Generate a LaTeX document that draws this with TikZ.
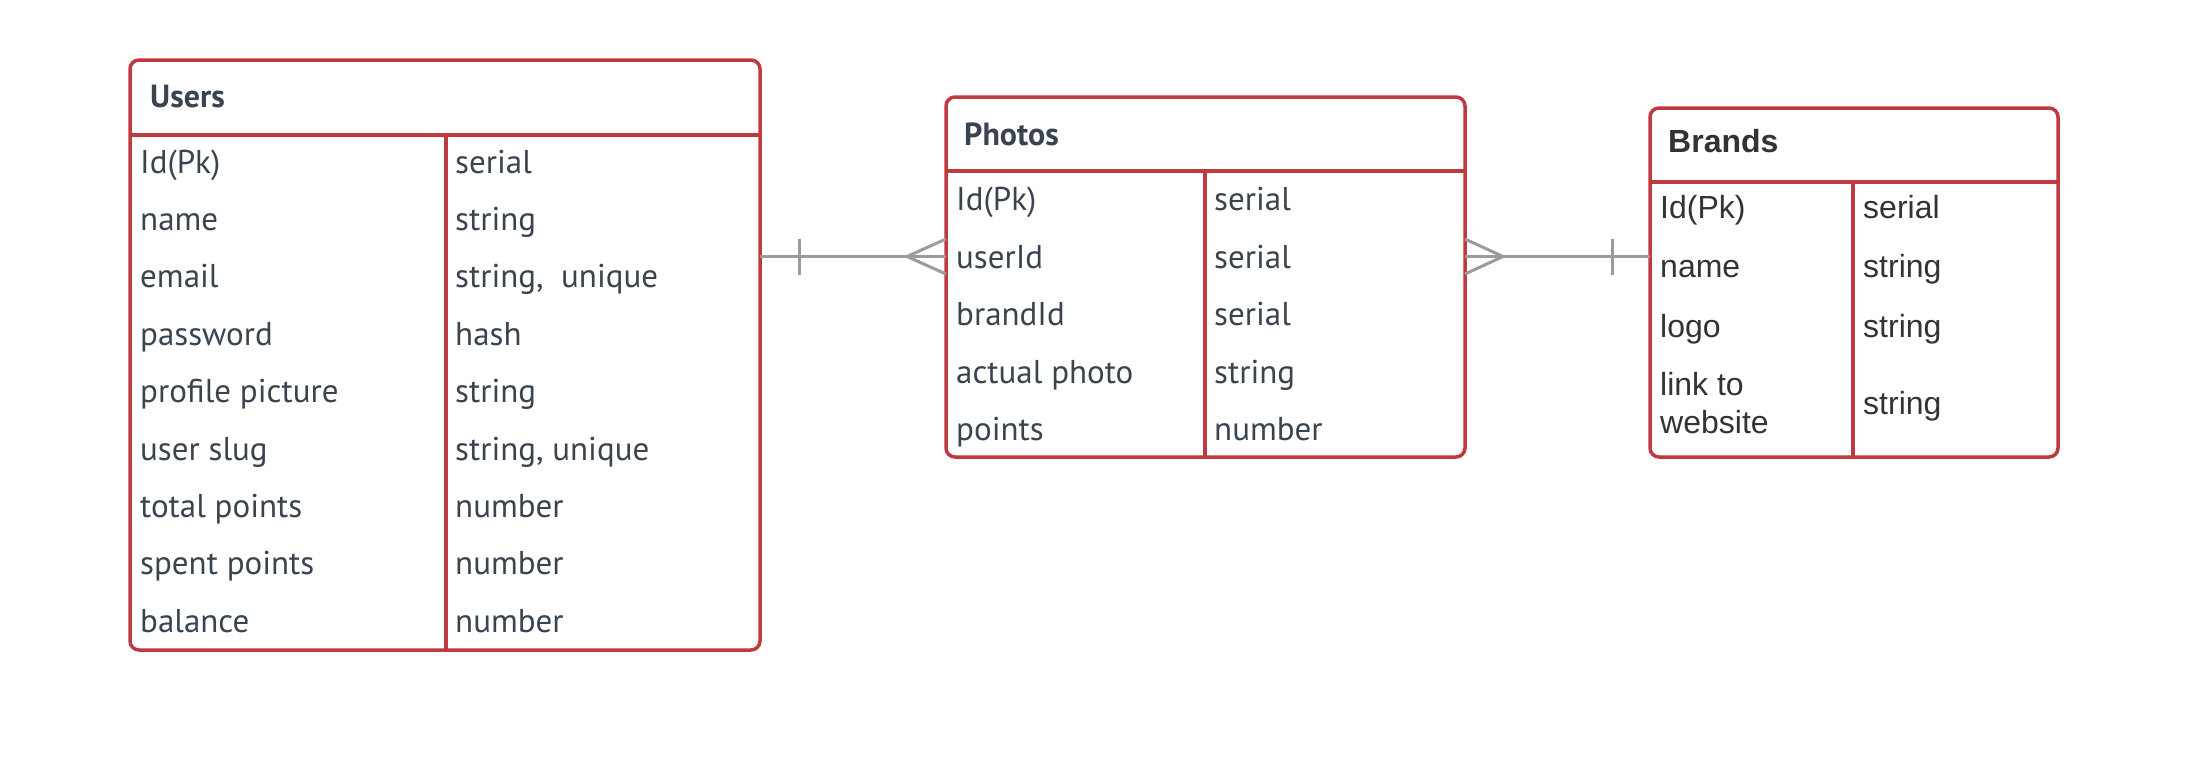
\documentclass[tikz,border=0pt]{standalone}
\usepackage{fontspec}
\setmainfont{PT Sans}
\newfontfamily\arialfont{Liberation Sans}
\usetikzlibrary{positioning}
\definecolor{tblred}{HTML}{BE3A40}
\definecolor{ink}{HTML}{3A4450}
\definecolor{linkgray}{HTML}{9B9B9B}
\begin{document}
\begin{tikzpicture}[x=1pt,y=-1pt,
  tbl/.style={draw=tblred,line width=3.5pt,rounded corners=9pt,inner sep=0pt,outer sep=0pt,anchor=north west},
  sep/.style={draw=tblred,line width=3.5pt},
  fld/.style={anchor=base west,inner sep=0pt,text=ink,font=\fontsize{33}{39}\selectfont},
  ttl/.style={fld,font=\fontsize{32}{38}\selectfont\bfseries},
  bfld/.style={fld,text=black!80,font=\arialfont\fontsize{32}{38}\selectfont},
  rel/.style={draw=linkgray,line width=3pt}]
\useasboundingbox (0,0) rectangle (2198,774);
% tables
\node[tbl,minimum width=630pt,minimum height=590pt] (users) at (130,60) {};
\node[tbl,minimum width=519pt,minimum height=360pt] (photos) at (946,97) {};
\node[tbl,minimum width=408pt,minimum height=349pt] (brands) at (1650,108) {};
\draw[sep] (users.west |- 0,135) -- (users.east |- 0,135);
\draw[sep] (446,135) -- (users.south -| 446,0);
\draw[sep] (photos.west |- 0,171) -- (photos.east |- 0,171);
\draw[sep] (1205,171) -- (photos.south -| 1205,0);
\draw[sep] (brands.west |- 0,182) -- (brands.east |- 0,182);
\draw[sep] (1853,182) -- (brands.south -| 1853,0);
% titles
\node[ttl] (usersttl) at (150,107) {Users};
\node[ttl] (photosttl) at (964,145) {Photos};
\node[ttl,font=\arialfont\fontsize{32}{38}\selectfont\bfseries,text=black!80] (brandsttl) at (1668,152) {Brands};
% fields
\foreach \f/\t [count=\i] in {Id(Pk)/serial,name/string,email/{string,\ \ unique},password/hash,profile picture/string,user slug/{string, unique},total points/number,spent points/number,balance/number}{
  \node[fld] (uf\i) at (140,173+57.4*\i-57.4) {\f};
  \node[fld] (ut\i) at (455,173+57.4*\i-57.4) {\t};
}
\foreach \f/\t [count=\i] in {Id(Pk)/serial,userId/serial,brandId/serial,actual photo/string,points/number}{
  \node[fld] (pf\i) at (956,210.5+57.5*\i-57.5) {\f};
  \node[fld] (pt\i) at (1214,210.5+57.5*\i-57.5) {\t};
}
\foreach \f/\t [count=\i] in {Id(Pk)/serial,name/string,logo/string}{
  \node[bfld] (bf\i) at (1660,218+59.5*\i-59.5) {\f};
  \node[bfld] (bt\i) at (1863,218+59.5*\i-59.5) {\t};
}
\node[bfld] (bf4) at (1660,395) {link to};
\node[bfld] (bf5) at (1660,433) {website};
\node[bfld] (bt4) at (1863,414) {string};
% relations
\draw[rel] (users.east |- 0,256.5) -- (photos.west |- 0,256.5);
\draw[rel] (799,239) -- (799,275);
\draw[rel] (photos.west |- 0,239) -- (907,256.5) -- (photos.west |- 0,274);
\draw[rel] (photos.east |- 0,256.5) -- (brands.west |- 0,256.5);
\draw[rel] (1612,239) -- (1612,275);
\draw[rel] (photos.east |- 0,239) -- (1503,256.5) -- (photos.east |- 0,274);
\end{tikzpicture}
\end{document}
